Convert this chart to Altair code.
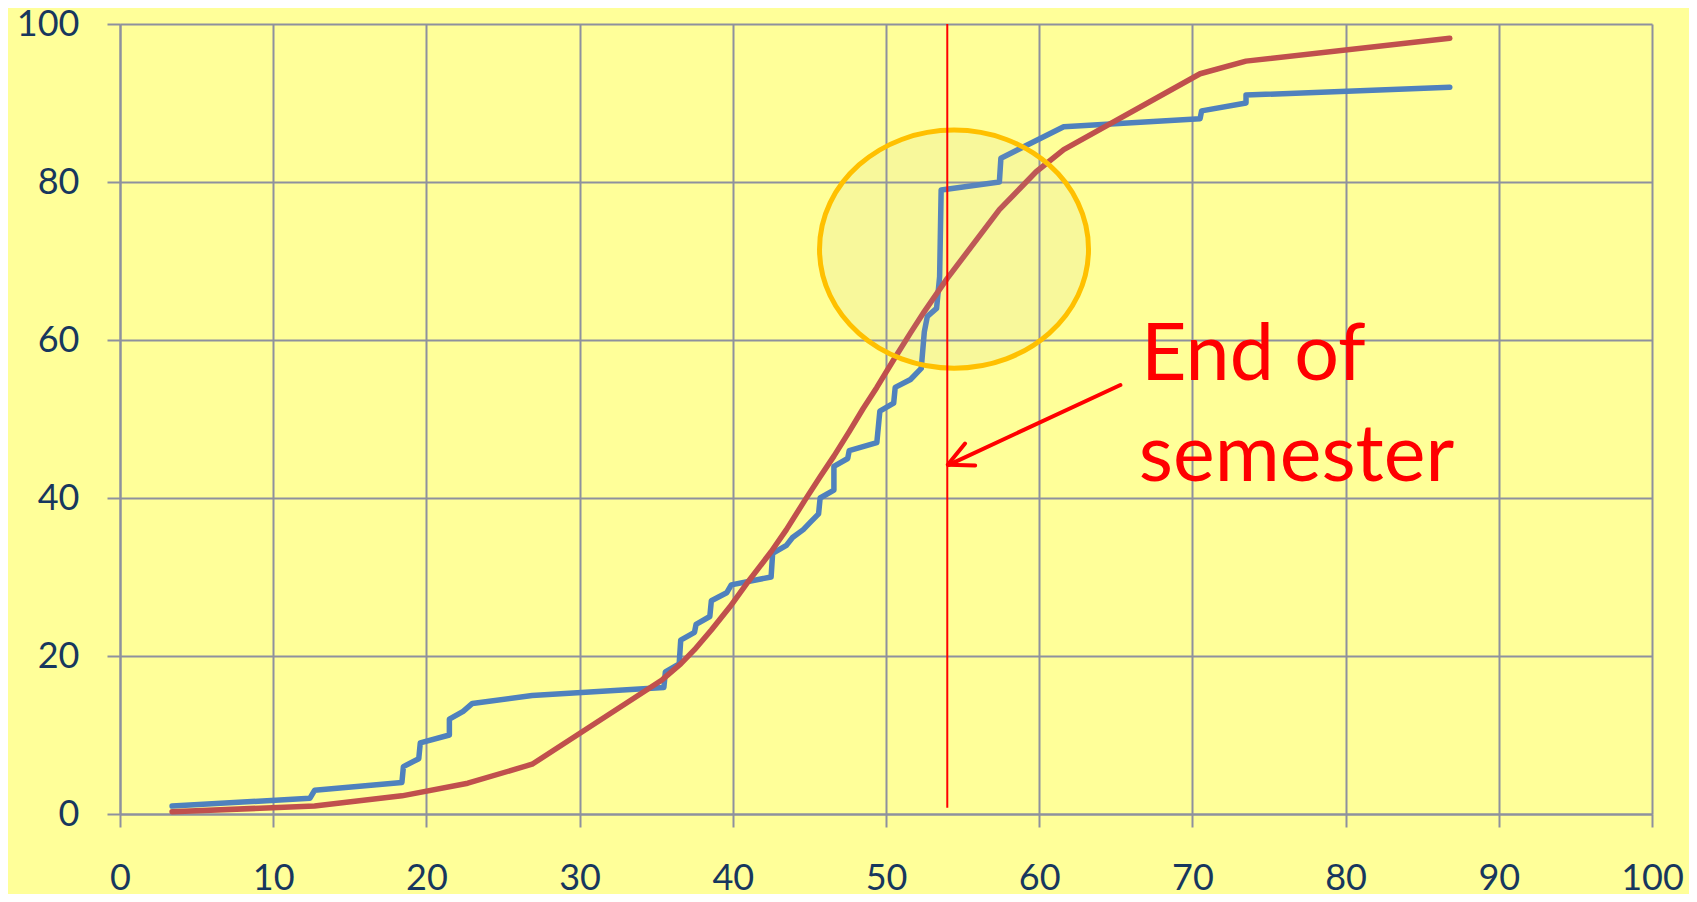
import altair as alt
import pandas as pd

# Observed cumulative curve (blue)
blue_x = [3.4, 12.4, 12.7, 18.4, 18.5, 19.5, 19.6, 21.5, 21.5, 22.4, 23.0, 26.9,
          35.5, 35.6, 36.5, 36.6, 37.5, 37.6, 38.5, 38.6, 39.6, 39.9, 42.5, 42.6,
          43.5, 43.9, 44.6, 45.1, 45.6, 45.7, 46.6, 46.6, 47.5, 47.6, 49.4, 49.6,
          50.5, 50.6, 51.6, 52.3, 52.5, 52.7, 53.3, 53.5, 53.6, 57.4, 57.5, 61.6,
          70.5, 70.6, 73.5, 73.5, 86.8]
blue_y = [1, 2, 3, 4, 6, 7, 9, 10, 12, 13, 14, 15,
          16, 18, 19, 22, 23, 24, 25, 27, 28, 29, 30, 33,
          34, 35, 36, 37, 38, 40, 41, 44, 45, 46, 47, 51,
          52, 54, 55, 56.4, 61, 63, 64, 68, 79, 80, 83, 87,
          88, 89, 90, 91, 92]

# Fitted cumulative curve (red)
red_x = [3.4, 12.7, 18.4, 22.7, 26.9, 35.4, 36.6, 37.5, 38.6, 39.8, 41.0, 42.5,
         43.5, 44.7, 45.7, 46.6, 47.6, 48.5, 49.4, 50.5, 51.6, 52.5, 53.5, 54.0,
         57.4, 59.8, 61.6, 70.5, 73.5, 86.8]
red_y = [0.3, 1.0, 2.3, 3.9, 6.3, 17.0, 19.0, 20.8, 23.3, 26.2, 29.4, 33.2,
         36.0, 39.7, 42.7, 45.3, 48.4, 51.3, 54.0, 57.5, 60.9, 63.6, 66.4, 67.8,
         76.5, 81.3, 84.1, 93.7, 95.3, 98.2]

x_ticks = list(range(0, 101, 10))
y_ticks = list(range(0, 101, 20))

semester_end = 54.0
label_lines = ["End of", "semester"]
label_x = [66.65, 66.5]
label_y = [55.0, 42.1]

blue_df = pd.DataFrame({"x": blue_x, "y": blue_y, "i": range(len(blue_x))})
red_df = pd.DataFrame({"x": red_x, "y": red_y, "i": range(len(red_x))})

xs = alt.Scale(domain=[0, 100], nice=False, zero=False)
ys = alt.Scale(domain=[0, 100], nice=False, zero=False)
x_axis = alt.Axis(values=x_ticks, title=None, labelPadding=34, labelAlign="center")
y_axis = alt.Axis(values=y_ticks, title=None, labelPadding=28)


def X(f="x:Q"):
    return alt.X(f, scale=xs, axis=x_axis)


def Y(f="y:Q"):
    return alt.Y(f, scale=ys, axis=y_axis)


blue = alt.Chart(blue_df).mark_line(
    color="#4F81BD", strokeWidth=5.5, strokeCap="round", strokeJoin="round"
).encode(x=X(), y=Y(), order="i:Q")

red = alt.Chart(red_df).mark_line(
    color="#C0504D", strokeWidth=5.5, strokeCap="round", strokeJoin="round"
).encode(x=X(), y=Y(), order="i:Q")

ellipse_path = ("M 1 0 C 1 0.4888 0.5523 0.885 0 0.885 C -0.5523 0.885 -1 0.4888 -1 0 "
                "C -1 -0.4888 -0.5523 -0.885 0 -0.885 C 0.5523 -0.885 1 -0.4888 1 0 Z")
ell_df = pd.DataFrame({"x": [54.44], "y": [71.5]})
ellipse = alt.Chart(ell_df).mark_point(
    shape=ellipse_path, size=72361, filled=True, fill="#B4B4B4", fillOpacity=0.09,
    stroke="#FFC000", strokeWidth=5, strokeOpacity=1, opacity=1
).encode(x=X(), y=Y())

vrule_df = pd.DataFrame({"x": [semester_end], "y": [0.8], "y2": [100]})
vrule = alt.Chart(vrule_df).mark_rule(color="#FF0000", strokeWidth=2).encode(
    x=X(), y=Y(), y2="y2:Q"
)

arrow_df = pd.DataFrame({"x": [65.3], "y": [54.3], "x2": [54.1], "y2": [44.2]})
shaft = alt.Chart(arrow_df).mark_rule(color="#FF0000", strokeWidth=4, strokeCap="round").encode(
    x=X(), y=Y(), x2="x2:Q", y2="y2:Q"
)
head_df = pd.DataFrame({"x": [54.03], "y": [44.2]})
head = alt.Chart(head_df).mark_point(
    shape="M -0.9 -0.44 L 0 0 L -0.9 0.44", size=3000, filled=False,
    stroke="#FF0000", strokeWidth=4, angle=155.2, strokeCap="round", strokeJoin="round",
    opacity=1
).encode(x=X(), y=Y())

text_df = pd.DataFrame({"x": label_x, "y": label_y, "t": label_lines})
label = alt.Chart(text_df).mark_text(
    align="left", baseline="alphabetic", font="Lato", fontSize=79, color="#FF0000"
).encode(x=X(), y=Y(), text="t:N")

chart = alt.layer(blue, red, ellipse, vrule, shaft, head, label).properties(
    width=1532, height=790,
    autosize=alt.AutoSizeParams(type="none"),
    padding={"left": 112, "top": 16, "right": 37, "bottom": 80},
    background="#FFFF99",
).configure_view(stroke=None).configure_axis(
    grid=True, gridColor="#8E919E", gridWidth=2,
    domainColor="#8E919E", domainWidth=2,
    tickColor="#8E919E", tickWidth=2, tickSize=13,
    labelFont="Lato", labelFontSize=36, labelColor="#17375E",
)

chart.save("out.html", embed_options={"renderer": "svg", "actions": False})
